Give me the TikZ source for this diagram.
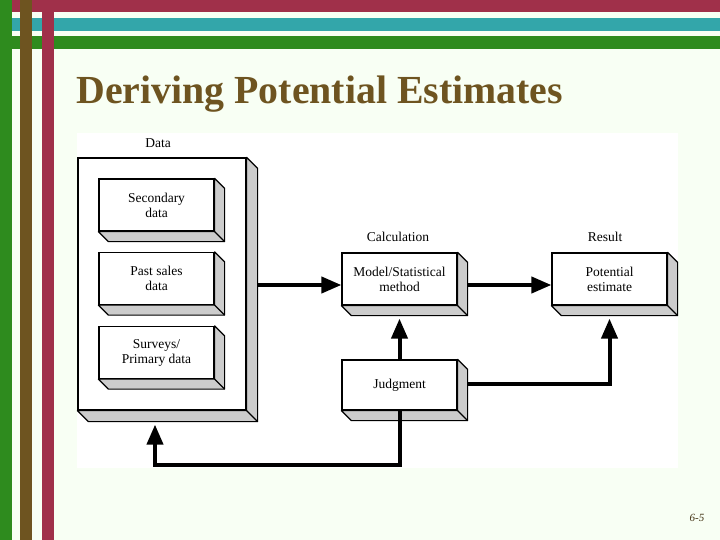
\documentclass[tikz,border=0pt]{standalone}
\usepackage{fontspec}
\setmainfont{Liberation Serif}
\usetikzlibrary{arrows.meta,calc}

\definecolor{slidebg}{HTML}{F8FFF4}
\definecolor{crimson}{HTML}{A0304A}
\definecolor{teal}{HTML}{33A6AA}
\definecolor{leaf}{HTML}{2E8B1E}
\definecolor{bark}{HTML}{6E5420}

% side and bottom faces of a raised box
\newcommand{\slab}[2]{%
  \filldraw[fill=gray!40, line width=1.2pt, line join=round]
    (#1.north east) -- ++(#2,#2) -- ([shift={(#2,#2)}]#1.south east)
    -- ([shift={(#2,#2)}]#1.south west) -- (#1.south west) -- (#1.south east) -- cycle;
  \draw[line width=1.2pt] (#1.south east) -- ++(#2,#2);}

\begin{document}
\begin{tikzpicture}[x=1pt, y=-1pt,
    font=\fontsize{13.5}{15}\selectfont,
    box/.style={draw, fill=white, line width=1.2pt, align=center, inner sep=2pt,
      minimum width=115pt, minimum height=52pt},
    flow/.style={line width=4pt, -{Triangle[length=20pt,width=16pt]}}]
  \useasboundingbox (0,0) rectangle (720,540);
  % slide frame
  \fill[slidebg] (0,0) rectangle (720,540);
  \fill[crimson] (0,0) rectangle (720,12);
  \fill[teal] (0,18) rectangle (720,31);
  \fill[leaf] (0,36) rectangle (720,49);
  \fill[leaf] (0,0) rectangle (12,540);
  \fill[bark] (20,0) rectangle (32,540);
  \fill[crimson] (42,0) rectangle (54,540);
  \fill[white] (77,133) rectangle (678,468);
  \node[anchor=base west, text=bark, font=\fontsize{39.8}{44}\selectfont\bfseries] (title) at (73,104) {Deriving Potential Estimates};
  \node[font=\fontsize{11}{13}\selectfont\itshape, text=bark!60!black] (page) at (697,518) {6-5};

  % data block
  \node[box, minimum width=168pt, minimum height=252pt] (data) at (162,284) {};
  \slab{data}{11}
  \node (datalabel) at (158,143) {Data};
  \node[box] (second) at (156.5,205) {Secondary\\data};
  \slab{second}{10}
  \node[box] (pastsales) at (156.5,278.5) {Past sales\\data};
  \slab{pastsales}{10}
  \node[box] (surveys) at (156.5,352.5) {Surveys/\\Primary data};
  \slab{surveys}{10}

  % calculation and result
  \node (calclabel) at (398,237) {Calculation};
  \node[box] (model) at (399.5,279) {Model/Statistical\\method};
  \slab{model}{10}
  \node (reslabel) at (605,237) {Result};
  \node[box] (potential) at (609.5,279) {Potential\\estimate};
  \slab{potential}{10}
  \node[box, minimum height=50pt] (judgment) at (399.5,385) {Judgment};
  \slab{judgment}{10}

  \coordinate (turn) at (155,465);
  \coordinate (datafoot) at ([shift={(0,14)}]data.south);
  \draw[flow] ([shift={(11,1)}]data.east) -- ([shift={(0,6)}]model.west);
  \draw[flow] ([shift={(10,6)}]model.east) -- ([shift={(0,6)}]potential.west);
  \draw[flow] (judgment.north) -- ([shift={(0,13)}]model.south);
  \draw[flow] ([shift={(10,-1)}]judgment.east) -| ([shift={(0,13)}]potential.south);
  \draw[flow] (judgment.south) |- (turn) -- (turn |- datafoot);
\end{tikzpicture}
\end{document}
